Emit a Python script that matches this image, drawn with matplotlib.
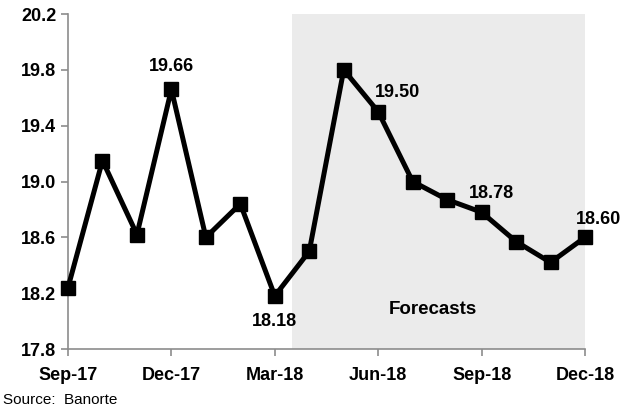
import numpy as np
import matplotlib
matplotlib.use('Agg')
from matplotlib import pyplot as plt

plt.rcParams['font.family'] = ['Liberation Sans Narrow', 'Liberation Sans', 'DejaVu Sans']

# monthly USD/MXN, Sep-17 .. Dec-18 (forecasts from Apr-18)
months = ['Sep-17', 'Oct-17', 'Nov-17', 'Dec-17', 'Jan-18', 'Feb-18', 'Mar-18', 'Apr-18',
          'May-18', 'Jun-18', 'Jul-18', 'Aug-18', 'Sep-18', 'Oct-18', 'Nov-18', 'Dec-18']
values = [18.24, 19.15, 18.62, 19.66, 18.60, 18.84, 18.18, 18.50,
          19.80, 19.50, 19.00, 18.87, 18.78, 18.57, 18.42, 18.60]
tick_labels = ['Sep-17', 'Dec-17', 'Mar-18', 'Jun-18', 'Sep-18', 'Dec-18']
yticks = [17.8, 18.2, 18.6, 19.0, 19.4, 19.8, 20.2]
forecast_start = 6.5

x = np.arange(len(months))

fig = plt.figure(figsize=(6.3, 4.15), dpi=100)
ax = fig.add_axes([68/630, 1 - 349/415, (585-68)/630, (349-14)/415])

ax.axvspan(forecast_start, x[-1] + 0.05, color='#ebebeb', zorder=0, lw=0)
ax.plot(x, values, color='k', lw=3.6, marker='s', ms=10, zorder=3, clip_on=False)

ax.set_xlim(0, x[-1])
ax.set_ylim(17.8, 20.2)
ax.set_xticks(x[::3])
ax.set_xticklabels(tick_labels)
ax.set_yticks(yticks)
ax.set_yticklabels(['%.1f' % v for v in yticks])

for s in ['top', 'right']:
    ax.spines[s].set_visible(False)
for s in ['left', 'bottom']:
    ax.spines[s].set_color('#8c8c8c')
    ax.spines[s].set_linewidth(1.2)
ax.tick_params(colors='#8c8c8c', length=5, width=1.2, labelcolor='k', labelsize=13)
for lab in ax.get_xticklabels() + ax.get_yticklabels():
    lab.set_fontweight('bold')
ax.tick_params(axis='x', pad=8)

lab_kw = dict(fontsize=13, fontweight='bold', ha='center')
ax.annotate('%.2f' % values[3], (x[3], values[3]), xytext=(0, 10), textcoords='offset points', va='bottom', **lab_kw)
ax.annotate('%.2f' % values[6], (x[6], values[6]), xytext=(0, -12), textcoords='offset points', va='top', **lab_kw)
ax.annotate('%.2f' % values[9], (x[9], values[9]), xytext=(14, 8), textcoords='offset points', va='bottom', **lab_kw)
ax.annotate('%.2f' % values[12], (x[12], values[12]), xytext=(7, 7), textcoords='offset points', va='bottom', **lab_kw)
ax.annotate('%.2f' % values[15], (x[15], values[15]), xytext=(10, 7), textcoords='offset points', va='bottom', **lab_kw)
ax.text(10.6, 18.08, 'Forecasts', fontsize=13.5, fontweight='bold', ha='center', va='center')

fig.text(3/630, 1 - 400/415, 'Source:  Banorte', fontsize=11, va='center', ha='left')

plt.savefig('out.png', dpi=100)
plt.close()
